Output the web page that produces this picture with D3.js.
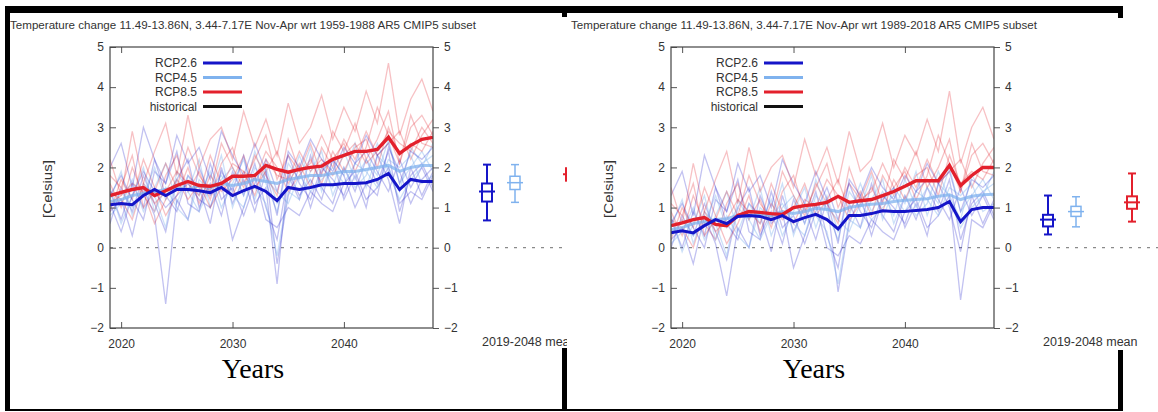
<!DOCTYPE html>
<html><head><meta charset="utf-8">
<script src="https://cdn.jsdelivr.net/npm/d3@7"></script>
<style>
html,body{margin:0;padding:0;background:#fff;}
svg{display:block;}
text{font-family:"Liberation Sans",Arial,sans-serif;fill:#333;}
</style></head><body>
<svg id="c" width="1158" height="412"></svg>
<script>
// ---------- categories / labels ----------
const years = [2019,2020,2021,2022,2023,2024,2025,2026,2027,2028,2029,2030,2031,2032,2033,2034,2035,2036,2037,2038,2039,2040,2041,2042,2043,2044,2045,2046,2047,2048];
const scenarios = ["RCP2.6","RCP4.5","RCP8.5"];
const scenarioPos = [1,2,4];
const legendLabels = ["RCP2.6","RCP4.5","RCP8.5","historical"];
const yTicks = [-2,-1,0,1,2,3,4,5];
const xTicks = [2020,2030,2040];
const titleA = "Temperature change 11.49-13.86N, 3.44-7.17E Nov-Apr wrt 1959-1988 AR5 CMIP5 subset";
const titleB = "Temperature change 11.49-13.86N, 3.44-7.17E Nov-Apr wrt 1989-2018 AR5 CMIP5 subset";
const yLabel = "[Celsius]";
const meanLabel = "2019-2048 mean";
const xLabel = "Years";

// ---------- panel A (wrt 1959-1988) ----------
const rcp26MeanA = [1.07,1.1,1.07,1.3,1.45,1.3,1.45,1.45,1.42,1.37,1.5,1.3,1.42,1.53,1.4,1.17,1.5,1.45,1.5,1.57,1.57,1.6,1.6,1.62,1.7,1.85,1.45,1.7,1.65,1.65];
const rcp45MeanA = [1.15,1.2,1.3,1.35,1.4,1.45,1.5,1.45,1.55,1.5,1.6,1.55,1.6,1.7,1.65,1.6,1.7,1.75,1.8,1.8,1.85,1.9,1.9,1.95,2.0,2.05,1.9,2.0,2.05,2.05];
const rcp85MeanA = [1.3,1.38,1.45,1.5,1.3,1.42,1.55,1.65,1.55,1.53,1.6,1.78,1.78,1.8,2.05,1.95,1.88,1.95,2.0,2.03,2.2,2.3,2.4,2.4,2.45,2.75,2.35,2.55,2.7,2.75];

const rcp26MembersA = [
 [0.6,1.5,0.9,1.8,1.1,0.4,1.7,2.2,1.0,1.6,0.8,1.9,1.3,2.1,1.0,0.2,1.8,1.2,2.3,1.5,1.1,2.0,1.4,2.2,1.6,2.4,0.9,1.8,2.1,1.5],
 [1.4,0.7,1.6,1.0,2.2,1.3,0.9,1.8,1.5,0.6,2.0,1.1,1.7,0.9,1.9,-0.4,1.3,2.0,1.0,1.9,2.2,1.2,1.8,1.0,2.3,1.7,0.6,2.0,1.3,1.9],
 [0.9,1.2,0.3,1.5,0.8,-1.4,1.2,0.7,2.0,1.3,1.6,0.2,1.0,1.8,0.7,0.5,1.0,0.8,1.4,1.1,0.9,1.6,1.9,1.2,1.5,2.0,1.1,1.4,1.2,1.8],
 [1.3,1.8,1.2,0.7,1.9,1.6,2.4,1.1,0.9,2.1,1.2,1.5,0.8,1.6,2.2,1.4,2.3,1.6,1.2,2.0,1.7,1.3,2.1,2.4,1.9,1.4,2.2,1.5,2.0,1.4],
 [1.1,0.4,1.3,1.9,1.4,1.0,1.3,1.6,1.2,1.0,1.9,1.4,2.3,1.1,1.5,-0.9,1.9,1.3,1.7,1.2,2.2,1.8,1.0,1.6,1.3,2.5,1.9,1.1,1.7,2.0],
 [2.0,2.6,1.5,3.0,2.2,1.6,2.8,2.1,2.5,1.7,2.9,2.3,1.8,2.6,1.9,0.8,2.4,2.0,2.7,2.2,1.9,2.5,2.1,2.8,2.3,2.6,1.6,2.4,2.2,2.5]
];
const rcp45MembersA = [
 [1.2,1.9,0.8,1.6,1.3,0.5,1.9,1.4,2.2,1.0,1.7,2.0,1.3,2.4,1.6,0.9,2.1,1.7,2.5,1.4,2.2,1.8,2.6,1.5,2.3,2.0,1.4,2.5,2.1,2.3],
 [0.8,1.1,1.7,0.9,1.5,2.1,1.1,1.8,1.3,1.9,1.0,1.6,2.2,1.2,2.0,1.1,1.5,2.3,1.6,2.1,1.5,2.4,1.7,2.2,1.8,2.7,1.6,2.0,2.4,1.9],
 [1.5,0.6,1.3,2.0,0.9,1.5,1.0,0.7,1.7,1.4,2.3,1.0,1.8,1.5,1.1,-0.2,1.4,1.2,1.9,2.4,1.3,2.0,1.5,1.8,2.6,1.9,1.2,1.7,2.0,2.6],
 [1.0,1.4,1.0,1.3,2.0,1.2,1.7,1.4,0.9,1.5,1.8,1.3,1.0,2.0,1.7,1.4,1.1,1.8,1.4,1.7,2.0,1.6,2.1,1.9,1.5,2.2,2.0,2.3,1.6,1.8]
];
const rcp85MembersA = [
 [1.6,1.0,2.0,1.3,0.9,1.8,2.3,1.4,1.9,1.2,2.1,2.5,1.6,2.2,2.8,1.7,2.3,1.9,2.6,1.8,2.9,2.4,3.1,2.2,2.7,3.4,2.1,3.0,3.3,2.8],
 [0.9,1.7,1.2,2.2,1.5,0.8,1.3,2.0,1.1,1.8,1.4,1.7,2.3,1.5,1.9,2.4,1.6,2.1,1.5,2.5,2.0,2.7,2.2,2.9,2.3,2.6,2.9,2.2,2.8,3.2],
 [1.4,1.2,0.7,1.6,1.1,1.4,1.9,1.6,1.3,2.3,1.6,1.3,1.9,1.7,2.4,2.0,1.4,1.8,2.2,1.6,2.4,1.9,2.5,2.7,2.0,3.0,2.3,2.6,2.4,2.9],
 [1.8,1.5,2.3,1.0,1.4,2.1,1.5,2.5,1.8,1.4,2.6,2.0,1.5,2.3,1.8,1.3,2.7,1.9,2.1,2.8,2.2,2.6,1.9,2.5,3.5,2.8,2.1,3.3,2.6,2.5],
 [1.1,1.3,1.6,1.4,0.6,1.2,1.7,1.2,1.6,1.0,1.5,2.1,1.9,1.3,2.2,1.8,1.7,2.4,1.9,2.2,1.8,2.3,2.6,2.1,2.4,2.9,2.6,2.4,3.0,2.6],
 [2.2,1.3,2.9,1.6,2.4,3.1,1.8,3.3,2.0,2.7,3.0,2.2,3.4,2.5,3.2,2.3,3.6,2.6,3.0,3.8,2.7,3.5,2.9,3.9,3.1,4.6,2.8,3.7,4.2,3.4]
];
const boxLowA  = [0.68,1.13,1.35];
const boxQ1A   = [1.15,1.45,1.67];
const boxMedA  = [1.4,1.62,1.83];
const boxQ3A   = [1.6,1.78,1.98];
const boxHighA = [2.07,2.07,2.55];

// ---------- panel B (wrt 1989-2018) ----------
const rcp26MeanB = [0.37,0.42,0.37,0.55,0.7,0.6,0.78,0.8,0.78,0.7,0.8,0.65,0.75,0.83,0.7,0.47,0.8,0.8,0.85,0.92,0.9,0.9,0.93,0.95,1.0,1.15,0.65,0.95,1.0,1.0];
const rcp45MeanB = [0.45,0.5,0.6,0.65,0.7,0.72,0.8,0.78,0.85,0.8,0.9,0.85,0.9,0.98,0.95,0.9,1.0,1.05,1.08,1.1,1.15,1.18,1.2,1.22,1.28,1.32,1.2,1.28,1.32,1.33];
const rcp85MeanB = [0.55,0.62,0.7,0.75,0.58,0.55,0.8,0.9,0.88,0.85,0.83,1.0,1.05,1.08,1.13,1.28,1.13,1.17,1.2,1.3,1.4,1.53,1.67,1.67,1.67,2.05,1.55,1.8,2.0,2.0];

const rcp26MembersB = [
 [0.0,0.8,0.3,1.1,0.4,-0.3,1.0,1.5,0.3,0.9,0.1,1.2,0.6,1.4,0.3,-0.5,1.1,0.5,1.6,0.8,0.4,1.3,0.7,1.5,0.9,1.7,0.2,1.1,1.4,0.8],
 [0.7,0.0,0.9,0.3,1.5,0.6,0.2,1.1,0.8,-0.1,1.3,0.4,1.0,0.2,1.2,-1.1,0.6,1.3,0.3,1.2,1.5,0.5,1.1,0.3,1.6,1.0,-0.1,1.3,0.6,1.2],
 [0.2,0.5,-0.4,0.8,0.1,-1.2,0.5,0.0,1.3,0.6,0.9,-0.5,0.3,1.1,0.0,-0.2,0.3,0.1,0.7,0.4,0.2,0.9,1.2,0.5,0.8,1.3,-1.3,0.7,0.5,1.1],
 [0.6,1.1,0.5,0.0,1.2,0.9,1.7,0.4,0.2,1.4,0.5,0.8,0.1,0.9,1.5,0.7,1.6,0.9,0.5,1.3,1.0,0.6,1.4,1.7,1.2,0.7,1.5,0.8,1.3,0.7],
 [1.3,1.9,0.8,2.3,1.5,0.9,2.1,1.4,1.8,1.0,2.2,1.6,1.1,1.9,1.2,0.1,1.7,1.3,2.0,1.5,1.2,1.8,1.4,2.1,1.6,1.9,0.9,1.7,1.5,1.8]
];
const rcp45MembersB = [
 [0.5,1.2,0.1,0.9,0.6,-0.2,1.2,0.7,1.5,0.3,1.0,1.3,0.6,1.7,0.9,0.2,1.4,1.0,1.8,0.7,1.5,1.1,1.9,0.8,1.6,1.3,0.7,1.8,1.4,1.6],
 [0.1,0.4,1.0,0.2,0.8,1.4,0.4,1.1,0.6,1.2,0.3,0.9,1.5,0.5,1.3,0.4,0.8,1.6,0.9,1.4,0.8,1.7,1.0,1.5,1.1,2.0,0.9,1.3,1.7,1.2],
 [0.8,-0.1,0.6,1.3,0.2,0.8,0.3,0.0,1.0,0.7,1.6,0.3,1.1,0.8,0.4,-0.9,0.7,0.5,1.2,1.7,0.6,1.3,0.8,1.1,1.9,1.2,0.5,1.0,1.3,1.9],
 [0.3,0.7,0.3,0.6,1.3,0.5,1.0,0.7,0.2,0.8,1.1,0.6,0.3,1.3,1.0,0.7,0.4,1.1,0.7,1.0,1.3,0.9,1.4,1.2,0.8,1.5,1.3,1.6,0.9,1.1]
];
const rcp85MembersB = [
 [0.9,0.3,1.3,0.6,0.2,1.1,1.6,0.7,1.2,0.5,1.4,1.8,0.9,1.5,2.1,1.0,1.6,1.2,1.9,1.1,2.2,1.7,2.4,1.5,2.0,2.7,1.4,2.3,2.6,2.1],
 [0.2,1.0,0.5,1.5,0.8,0.1,0.6,1.3,0.4,1.1,0.7,1.0,1.6,0.8,1.2,1.7,0.9,1.4,0.8,1.8,1.3,2.0,1.5,2.2,1.6,1.9,2.2,1.5,2.1,2.5],
 [0.7,0.5,0.0,0.9,0.4,0.7,1.2,0.9,0.6,1.6,0.9,0.6,1.2,1.0,1.7,1.3,0.7,1.1,1.5,0.9,1.7,1.2,1.8,2.0,1.3,2.3,1.6,1.9,1.7,2.2],
 [1.1,0.8,1.6,0.3,0.7,1.4,0.8,1.8,1.1,0.7,1.9,1.3,0.8,1.6,1.1,0.6,2.0,1.2,1.4,2.1,1.5,1.9,1.2,1.8,2.8,2.1,1.4,2.6,1.9,1.8],
 [1.5,0.6,2.1,0.9,1.7,2.4,1.1,2.5,1.4,2.0,2.3,1.5,2.7,1.8,2.5,1.6,2.9,1.9,2.2,3.1,2.0,2.8,2.3,3.2,2.4,3.9,2.1,3.0,3.5,2.7]
];
const boxLowB  = [0.33,0.52,0.65];
const boxQ1B   = [0.53,0.78,0.97];
const boxMedB  = [0.7,0.9,1.13];
const boxQ3B   = [0.82,1.03,1.28];
const boxHighB = [1.3,1.27,1.85];

// ---------- styles ----------
const colors = {"RCP2.6":"#1515c8","RCP4.5":"#7fb2ee","RCP8.5":"#e3202c","historical":"#111111"};

const svg = d3.select("#c");
const defs = svg.append("defs");
defs.append("clipPath").attr("id","clipA").append("rect").attr("x",10).attr("y",12).attr("width",557).attr("height",336);
defs.append("clipPath").attr("id","clipB").append("rect").attr("x",567).attr("y",12).attr("width",591).attr("height",338);
defs.append("clipPath").attr("id","plotClip").append("rect").attr("x",110).attr("y",47).attr("width",323).attr("height",281);

function drawPanel(cfg){
  const outer = svg.append("g").attr("clip-path",`url(#${cfg.clip})`);
  outer.append("rect").attr("x",cfg.dx + 6).attr("y",10).attr("width",600).attr("height",345).attr("fill","#fff");
  const g = outer.append("g").attr("transform",`translate(${cfg.dx},0)`);

  const x = d3.scaleLinear().domain([2019,2048]).range([110,433]);
  const y = d3.scaleLinear().domain([-2,5]).range([328,47]);
  const bx = d3.scaleLinear().domain([1,4]).range([487,571]);

  g.append("text").attr("x",10).attr("y",29).attr("font-size",11)
    .attr("textLength",466).attr("lengthAdjust","spacingAndGlyphs").text(cfg.title);

  g.append("text").attr("transform","translate(52,189) rotate(-90)").attr("text-anchor","middle")
    .attr("font-size",12).attr("textLength",58).attr("lengthAdjust","spacingAndGlyphs").text(yLabel);

  const plot = g.append("g").attr("clip-path","url(#plotClip)");
  const line = d3.line().x((d,i)=>x(years[i])).y(d=>y(d));

  plot.append("line").attr("x1",x(2019)).attr("x2",x(2048)).attr("y1",y(0)).attr("y2",y(0))
    .attr("stroke","#8a8a8a").attr("stroke-width",1.2).attr("stroke-dasharray","3,6");

  const memberSets = [
    [cfg.m26, colors["RCP2.6"], 0.26],
    [cfg.m45, colors["RCP4.5"], 0.4],
    [cfg.m85, colors["RCP8.5"], 0.28]
  ];
  const maxN = d3.max(memberSets, s=>s[0].length);
  for(let k=0;k<maxN;k++){
    memberSets.forEach(([set,col,op])=>{
      if(k<set.length){
        plot.append("path").datum(set[k]).attr("d",line).attr("fill","none")
          .attr("stroke",col).attr("stroke-opacity",op).attr("stroke-width",1.3);
      }
    });
  }
  plot.append("path").datum(cfg.mean45).attr("d",line).attr("fill","none")
    .attr("stroke",colors["RCP4.5"]).attr("stroke-width",3).attr("stroke-opacity",0.75);
  plot.append("path").datum(cfg.mean85).attr("d",line).attr("fill","none")
    .attr("stroke",colors["RCP8.5"]).attr("stroke-width",3.4);
  plot.append("path").datum(cfg.mean26).attr("d",line).attr("fill","none")
    .attr("stroke",colors["RCP2.6"]).attr("stroke-width",3);

  const axisStyle = sel => {
    sel.select(".domain").remove();
    sel.selectAll(".tick line").attr("stroke","#555");
    sel.selectAll(".tick text").attr("fill","#333").attr("font-family","Liberation Sans, Arial, sans-serif").attr("font-size",12);
  };
  const fmt = d3.format("d");
  g.append("g").attr("transform","translate(110,0)")
    .call(d3.axisLeft(y).tickValues(yTicks).tickSize(-6).tickPadding(6).tickFormat(fmt)).call(axisStyle);
  g.append("g").attr("transform","translate(433,0)")
    .call(d3.axisRight(y).tickValues(yTicks).tickSize(6).tickPadding(5).tickFormat(fmt)).call(axisStyle);
  g.append("g").attr("transform","translate(0,328)")
    .call(d3.axisBottom(x).tickValues(xTicks).tickSize(-6).tickPadding(11).tickFormat(fmt)).call(axisStyle);
  g.append("g").attr("transform","translate(0,47)")
    .call(d3.axisTop(x).tickValues(xTicks).tickSize(-6).tickFormat("")).call(axisStyle);

  g.append("rect").attr("x",110).attr("y",47).attr("width",323).attr("height",281)
    .attr("fill","none").attr("stroke","#444").attr("stroke-width",1.2);

  legendLabels.forEach((lab,i)=>{
    const ly = 63 + i*14.5;
    g.append("text").attr("x",197).attr("y",ly+4).attr("text-anchor","end").attr("font-size",12).text(lab);
    g.append("line").attr("x1",203).attr("x2",242).attr("y1",ly).attr("y2",ly)
      .attr("stroke",colors[lab]).attr("stroke-width",3);
  });

  g.append("line").attr("x1",478).attr("x2",620).attr("y1",y(0)).attr("y2",y(0))
    .attr("stroke","#8a8a8a").attr("stroke-width",1.2).attr("stroke-dasharray","3,6");
  scenarios.forEach((s,i)=>{
    const cx = bx(scenarioPos[i]);
    const col = colors[s];
    const sw = s==="RCP4.5" ? 1.5 : 2;
    const bg = g.append("g").attr("stroke",col).attr("stroke-width",sw).attr("fill","none");
    bg.append("line").attr("x1",cx).attr("x2",cx).attr("y1",y(cfg.high[i])).attr("y2",y(cfg.q3[i]));
    bg.append("line").attr("x1",cx).attr("x2",cx).attr("y1",y(cfg.q1[i])).attr("y2",y(cfg.low[i]));
    bg.append("line").attr("x1",cx-4).attr("x2",cx+4).attr("y1",y(cfg.high[i])).attr("y2",y(cfg.high[i]));
    bg.append("line").attr("x1",cx-4).attr("x2",cx+4).attr("y1",y(cfg.low[i])).attr("y2",y(cfg.low[i]));
    bg.append("rect").attr("x",cx-5).attr("width",10).attr("y",y(cfg.q3[i])).attr("height",y(cfg.q1[i])-y(cfg.q3[i]));
    bg.append("line").attr("x1",cx-8).attr("x2",cx+8).attr("y1",y(cfg.med[i])).attr("y2",y(cfg.med[i]));
  });
  g.append("text").attr("x",482).attr("y",346).attr("font-size",12.5).text(meanLabel);
}

drawPanel({clip:"clipA", dx:0, title:titleA,
  mean26:rcp26MeanA, mean45:rcp45MeanA, mean85:rcp85MeanA,
  m26:rcp26MembersA, m45:rcp45MembersA, m85:rcp85MembersA,
  low:boxLowA, q1:boxQ1A, med:boxMedA, q3:boxQ3A, high:boxHighA});
drawPanel({clip:"clipB", dx:561, title:titleB,
  mean26:rcp26MeanB, mean45:rcp45MeanB, mean85:rcp85MeanB,
  m26:rcp26MembersB, m45:rcp45MembersB, m85:rcp85MembersB,
  low:boxLowB, q1:boxQ1B, med:boxMedB, q3:boxQ3B, high:boxHighB});

[253, 814].forEach(cx=>{
  svg.append("text").attr("x",cx).attr("y",378).attr("text-anchor","middle")
    .style("font-family","'Liberation Serif','Times New Roman',serif").style("fill","#000")
    .attr("font-size",28).text(xLabel);
});

const border = svg.append("g").attr("fill","#000");
[[5,6,1118,7],[562,6,5,11],[1118,6,5,12],[5,6,5,404],[5,409,1118,2],[562,348,5,62],[1118,350,5,60]]
  .forEach(([bx0,by0,w,h])=>border.append("rect").attr("x",bx0).attr("y",by0).attr("width",w).attr("height",h));
</script>
</body></html>
